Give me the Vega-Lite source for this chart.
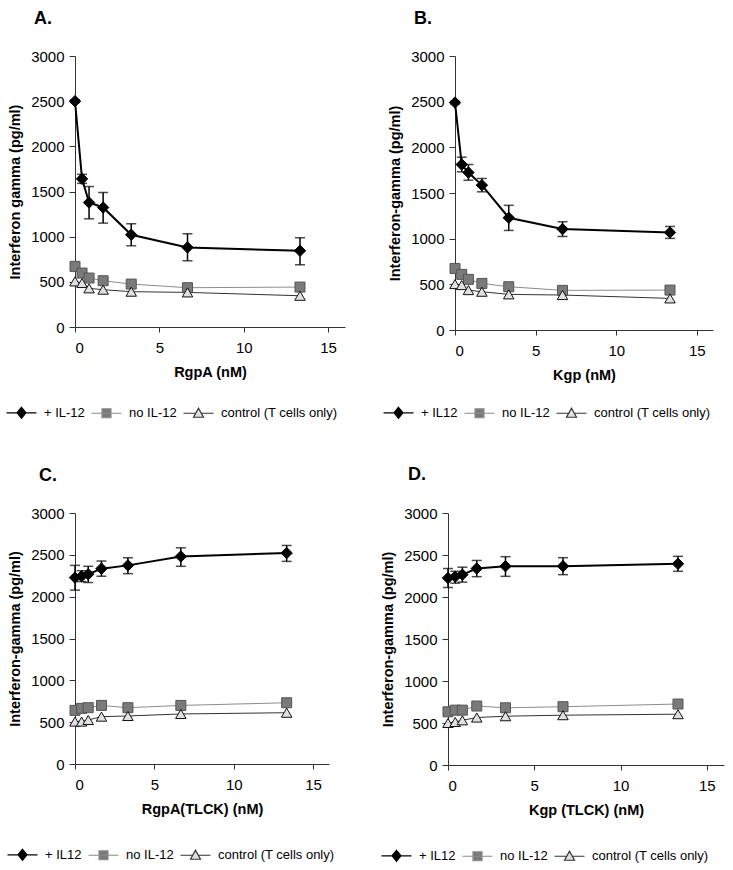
{
  "$schema": "https://vega.github.io/schema/vega-lite/v6.json",
  "padding": {"left": 5, "top": 10, "right": 5, "bottom": 5},
  "background": "white",
  "config": {
    "font": "Liberation Sans",
    "view": {"stroke": null},
    "axis": {"grid": false, "domainColor": "#333", "tickColor": "#333", "labelColor": "#000", "titleColor": "#000", "labelFontSize": 15, "labelFont": "Liberation Sans", "titleFont": "Liberation Sans", "titleFontSize": 14.5, "titleFontWeight": "bold", "format": "d"},
    "axisY": {"titlePadding": 8, "tickSize": 6, "labelPadding": 5},
    "axisX": {"titlePadding": 10, "tickSize": 5, "labelPadding": 8},
    "title": {"frame": "group"},
    "legend": {"padding": 0}
  },
  "data": {"values": [
    {"p":"A","s":"+ IL-12","x":0,"y":2500,"lo":2485,"hi":2515},
    {"p":"A","s":"+ IL-12","x":0.417,"y":1640,"lo":1590,"hi":1690},
    {"p":"A","s":"+ IL-12","x":0.833,"y":1378,"lo":1198,"hi":1555},
    {"p":"A","s":"+ IL-12","x":1.667,"y":1323,"lo":1150,"hi":1489},
    {"p":"A","s":"+ IL-12","x":3.333,"y":1021,"lo":899,"hi":1143},
    {"p":"A","s":"+ IL-12","x":6.667,"y":881,"lo":733,"hi":1032},
    {"p":"A","s":"+ IL-12","x":13.333,"y":844,"lo":689,"hi":988},
    {"p":"A","s":"no IL-12","x":0,"y":671},
    {"p":"A","s":"no IL-12","x":0.417,"y":597},
    {"p":"A","s":"no IL-12","x":0.833,"y":542},
    {"p":"A","s":"no IL-12","x":1.667,"y":512},
    {"p":"A","s":"no IL-12","x":3.333,"y":475},
    {"p":"A","s":"no IL-12","x":6.667,"y":435},
    {"p":"A","s":"no IL-12","x":13.333,"y":442},
    {"p":"A","s":"control (T cells only)","x":0,"y":505},
    {"p":"A","s":"control (T cells only)","x":0.417,"y":487},
    {"p":"A","s":"control (T cells only)","x":0.833,"y":428},
    {"p":"A","s":"control (T cells only)","x":1.667,"y":413},
    {"p":"A","s":"control (T cells only)","x":3.333,"y":391},
    {"p":"A","s":"control (T cells only)","x":6.667,"y":383},
    {"p":"A","s":"control (T cells only)","x":13.333,"y":346},
    {"p":"B","s":"+ IL12","x":0,"y":2490,"lo":2475,"hi":2505},
    {"p":"B","s":"+ IL12","x":0.417,"y":1812,"lo":1732,"hi":1892},
    {"p":"B","s":"+ IL12","x":0.833,"y":1724,"lo":1640,"hi":1812},
    {"p":"B","s":"+ IL12","x":1.667,"y":1586,"lo":1513,"hi":1659},
    {"p":"B","s":"+ IL12","x":3.333,"y":1229,"lo":1090,"hi":1365},
    {"p":"B","s":"+ IL12","x":6.667,"y":1105,"lo":1024,"hi":1185},
    {"p":"B","s":"+ IL12","x":13.333,"y":1068,"lo":1003,"hi":1134},
    {"p":"B","s":"no IL-12","x":0,"y":674},
    {"p":"B","s":"no IL-12","x":0.417,"y":609},
    {"p":"B","s":"no IL-12","x":0.833,"y":554},
    {"p":"B","s":"no IL-12","x":1.667,"y":510},
    {"p":"B","s":"no IL-12","x":3.333,"y":474},
    {"p":"B","s":"no IL-12","x":6.667,"y":434},
    {"p":"B","s":"no IL-12","x":13.333,"y":437},
    {"p":"B","s":"control (T cells only)","x":0,"y":503},
    {"p":"B","s":"control (T cells only)","x":0.417,"y":492},
    {"p":"B","s":"control (T cells only)","x":0.833,"y":437},
    {"p":"B","s":"control (T cells only)","x":1.667,"y":419},
    {"p":"B","s":"control (T cells only)","x":3.333,"y":390},
    {"p":"B","s":"control (T cells only)","x":6.667,"y":383},
    {"p":"B","s":"control (T cells only)","x":13.333,"y":346},
    {"p":"C","s":"+ IL12","x":0,"y":2228,"lo":2078,"hi":2374},
    {"p":"C","s":"+ IL12","x":0.417,"y":2244,"lo":2180,"hi":2310},
    {"p":"C","s":"+ IL12","x":0.833,"y":2268,"lo":2169,"hi":2363},
    {"p":"C","s":"+ IL12","x":1.667,"y":2335,"lo":2244,"hi":2426},
    {"p":"C","s":"+ IL12","x":3.333,"y":2374,"lo":2275,"hi":2465},
    {"p":"C","s":"+ IL12","x":6.667,"y":2481,"lo":2363,"hi":2584},
    {"p":"C","s":"+ IL12","x":13.333,"y":2521,"lo":2422,"hi":2612},
    {"p":"C","s":"no IL-12","x":0,"y":641},
    {"p":"C","s":"no IL-12","x":0.417,"y":665},
    {"p":"C","s":"no IL-12","x":0.833,"y":673},
    {"p":"C","s":"no IL-12","x":1.667,"y":700},
    {"p":"C","s":"no IL-12","x":3.333,"y":673},
    {"p":"C","s":"no IL-12","x":6.667,"y":700},
    {"p":"C","s":"no IL-12","x":13.333,"y":732},
    {"p":"C","s":"control (T cells only)","x":0,"y":507},
    {"p":"C","s":"control (T cells only)","x":0.417,"y":507},
    {"p":"C","s":"control (T cells only)","x":0.833,"y":526},
    {"p":"C","s":"control (T cells only)","x":1.667,"y":566},
    {"p":"C","s":"control (T cells only)","x":3.333,"y":574},
    {"p":"C","s":"control (T cells only)","x":6.667,"y":598},
    {"p":"C","s":"control (T cells only)","x":13.333,"y":613},
    {"p":"D","s":"+ IL12","x":0,"y":2226,"lo":2113,"hi":2339},
    {"p":"D","s":"+ IL12","x":0.417,"y":2242,"lo":2165,"hi":2306},
    {"p":"D","s":"+ IL12","x":0.833,"y":2266,"lo":2177,"hi":2355},
    {"p":"D","s":"+ IL12","x":1.667,"y":2339,"lo":2242,"hi":2435},
    {"p":"D","s":"+ IL12","x":3.333,"y":2367,"lo":2246,"hi":2480},
    {"p":"D","s":"+ IL12","x":6.667,"y":2367,"lo":2266,"hi":2468},
    {"p":"D","s":"+ IL12","x":13.333,"y":2395,"lo":2306,"hi":2484},
    {"p":"D","s":"no IL-12","x":0,"y":633},
    {"p":"D","s":"no IL-12","x":0.417,"y":653},
    {"p":"D","s":"no IL-12","x":0.833,"y":653},
    {"p":"D","s":"no IL-12","x":1.667,"y":702},
    {"p":"D","s":"no IL-12","x":3.333,"y":681},
    {"p":"D","s":"no IL-12","x":6.667,"y":694},
    {"p":"D","s":"no IL-12","x":13.333,"y":726},
    {"p":"D","s":"control (T cells only)","x":0,"y":500},
    {"p":"D","s":"control (T cells only)","x":0.417,"y":512},
    {"p":"D","s":"control (T cells only)","x":0.833,"y":532},
    {"p":"D","s":"control (T cells only)","x":1.667,"y":565},
    {"p":"D","s":"control (T cells only)","x":3.333,"y":581},
    {"p":"D","s":"control (T cells only)","x":6.667,"y":593},
    {"p":"D","s":"control (T cells only)","x":13.333,"y":605}
  ]},
  "resolve": {"scale": {"shape": "independent", "fill": "independent", "stroke": "independent"}, "legend": {"shape": "independent", "fill": "independent", "stroke": "independent"}},
  "spacing": 45,
  "vconcat": [
    {
      "spacing": 37,
      "resolve": {"scale": {"shape": "independent", "fill": "independent", "stroke": "independent"}, "legend": {"shape": "independent", "fill": "independent", "stroke": "independent"}},
      "hconcat": [
        {
          "width": 270, "height": 271,
          "title": {"text": "A.", "anchor": "start", "dx": -41, "fontSize": 18, "fontWeight": "bold", "baseline": "bottom", "offset": 3},
          "transform": [{"filter": "datum.p === 'A'"}],
          "layer": [
            {"transform": [{"filter": "datum.s === 'no IL-12'"}],
             "mark": {"type": "line", "color": "#8c8c8c", "strokeWidth": 1},
             "encoding": {
               "x": {"field": "x", "type": "quantitative", "scale": {"domain": [0, 15]}, "axis": {"values": [0, 5, 10, 15], "title": "RgpA (nM)"}},
               "y": {"field": "y", "type": "quantitative", "scale": {"domain": [0, 3000]}, "axis": {"values": [0, 500, 1000, 1500, 2000, 2500, 3000], "title": "Interferon gamma (pg/ml)"}}}},
            {"transform": [{"filter": "datum.s === 'control (T cells only)'"}],
             "mark": {"type": "line", "color": "#333333", "strokeWidth": 1},
             "encoding": {"x": {"field": "x", "type": "quantitative"}, "y": {"field": "y", "type": "quantitative", "title": "Interferon gamma (pg/ml)"}}},
            {"transform": [{"filter": "datum.s === '+ IL-12'"}],
             "mark": {"type": "line", "color": "#000000", "strokeWidth": 2},
             "encoding": {"x": {"field": "x", "type": "quantitative"}, "y": {"field": "y", "type": "quantitative", "title": "Interferon gamma (pg/ml)"}}},
            {"transform": [{"filter": "isValid(datum.lo)"}],
             "mark": {"type": "errorbar", "ticks": {"size": 10}, "color": "#000", "thickness": 1.5},
             "encoding": {"x": {"field": "x", "type": "quantitative"}, "y": {"field": "lo", "type": "quantitative", "title": "Interferon gamma (pg/ml)"}, "y2": {"field": "hi"}}},
            {"transform": [{"filter": "datum.s === 'no IL-12'"}],
             "mark": {"type": "point", "shape": "square", "size": 100, "filled": true, "fill": "#7a7a7a", "stroke": "#555555", "strokeWidth": 1, "opacity": 1},
             "encoding": {"x": {"field": "x", "type": "quantitative"}, "y": {"field": "y", "type": "quantitative", "title": "Interferon gamma (pg/ml)"}}},
            {"transform": [{"filter": "datum.s === 'control (T cells only)'"}],
             "mark": {"type": "point", "shape": "triangle-up", "size": 110, "filled": true, "fill": "#e0e0e0", "stroke": "#111111", "strokeWidth": 1, "opacity": 1},
             "encoding": {"x": {"field": "x", "type": "quantitative"}, "y": {"field": "y", "type": "quantitative", "title": "Interferon gamma (pg/ml)"}}},
            {"transform": [{"filter": "datum.s === '+ IL-12'"}],
             "mark": {"type": "point", "shape": "diamond", "size": 130, "filled": true, "fill": "#000000", "stroke": "#000000", "strokeWidth": 1, "opacity": 1},
             "encoding": {"x": {"field": "x", "type": "quantitative"}, "y": {"field": "y", "type": "quantitative", "title": "Interferon gamma (pg/ml)"}}},
            {"mark": {"type": "point", "opacity": 0, "filled": true},
             "encoding": {
               "x": {"field": "x", "type": "quantitative"},
               "y": {"field": "y", "type": "quantitative", "title": "Interferon gamma (pg/ml)"},
               "shape": {"field": "s", "type": "nominal", "scale": {"domain": ["+ IL-12", "no IL-12", "control (T cells only)"], "range": ["M-1,0L5,0M2,-1.1L2.9,0L2,1.1L1.1,0Z", "M-1,0L5,0M1.1,-0.9L2.9,-0.9L2.9,0.9L1.1,0.9Z", "M-1,0L1.45,0M2.55,0L5,0M2,-1L3,0.8L1,0.8Z"]},
                 "legend": {"orient": "none", "legendX": -70, "legendY": 350, "direction": "horizontal", "title": null, "labelFontSize": 13, "labelColor": "#000", "symbolSize": 100, "labelOffset": 26, "columnPadding": 4, "symbolOpacity": 1, "symbolStrokeWidth": 1.2}},
               "fill": {"field": "s", "type": "nominal", "scale": {"domain": ["+ IL-12", "no IL-12", "control (T cells only)"], "range": ["#000000", "#7a7a7a", "#e0e0e0"]},
                 "legend": {"orient": "none", "legendX": -70, "legendY": 350, "direction": "horizontal", "title": null, "labelFontSize": 13, "labelColor": "#000", "symbolSize": 100, "labelOffset": 26, "columnPadding": 4, "symbolOpacity": 1, "symbolStrokeWidth": 1.2}},
               "stroke": {"field": "s", "type": "nominal", "scale": {"domain": ["+ IL-12", "no IL-12", "control (T cells only)"], "range": ["#000000", "#8c8c8c", "#333333"]},
                 "legend": {"orient": "none", "legendX": -70, "legendY": 350, "direction": "horizontal", "title": null, "labelFontSize": 13, "labelColor": "#000", "symbolSize": 100, "labelOffset": 26, "columnPadding": 4, "symbolOpacity": 1, "symbolStrokeWidth": 1.2}}
             }}
          ]
        },
        {
          "width": 258, "height": 274,
          "title": {"text": "B.", "anchor": "start", "dx": -41, "fontSize": 18, "fontWeight": "bold", "baseline": "bottom", "offset": 3},
          "transform": [{"filter": "datum.p === 'B'"}],
          "layer": [
            {"transform": [{"filter": "datum.s === 'no IL-12'"}],
             "mark": {"type": "line", "color": "#8c8c8c", "strokeWidth": 1},
             "encoding": {
               "x": {"field": "x", "type": "quantitative", "scale": {"domain": [0, 15]}, "axis": {"values": [0, 5, 10, 15], "title": "Kgp (nM)"}},
               "y": {"field": "y", "type": "quantitative", "scale": {"domain": [0, 3000]}, "axis": {"values": [0, 500, 1000, 1500, 2000, 2500, 3000], "title": "Interferon-gamma (pg/ml)"}}}},
            {"transform": [{"filter": "datum.s === 'control (T cells only)'"}],
             "mark": {"type": "line", "color": "#333333", "strokeWidth": 1},
             "encoding": {"x": {"field": "x", "type": "quantitative"}, "y": {"field": "y", "type": "quantitative", "title": "Interferon-gamma (pg/ml)"}}},
            {"transform": [{"filter": "datum.s === '+ IL12'"}],
             "mark": {"type": "line", "color": "#000000", "strokeWidth": 2},
             "encoding": {"x": {"field": "x", "type": "quantitative"}, "y": {"field": "y", "type": "quantitative", "title": "Interferon-gamma (pg/ml)"}}},
            {"transform": [{"filter": "isValid(datum.lo)"}],
             "mark": {"type": "errorbar", "ticks": {"size": 10}, "color": "#000", "thickness": 1.5},
             "encoding": {"x": {"field": "x", "type": "quantitative"}, "y": {"field": "lo", "type": "quantitative", "title": "Interferon-gamma (pg/ml)"}, "y2": {"field": "hi"}}},
            {"transform": [{"filter": "datum.s === 'no IL-12'"}],
             "mark": {"type": "point", "shape": "square", "size": 100, "filled": true, "fill": "#7a7a7a", "stroke": "#555555", "strokeWidth": 1, "opacity": 1},
             "encoding": {"x": {"field": "x", "type": "quantitative"}, "y": {"field": "y", "type": "quantitative", "title": "Interferon-gamma (pg/ml)"}}},
            {"transform": [{"filter": "datum.s === 'control (T cells only)'"}],
             "mark": {"type": "point", "shape": "triangle-up", "size": 110, "filled": true, "fill": "#e0e0e0", "stroke": "#111111", "strokeWidth": 1, "opacity": 1},
             "encoding": {"x": {"field": "x", "type": "quantitative"}, "y": {"field": "y", "type": "quantitative", "title": "Interferon-gamma (pg/ml)"}}},
            {"transform": [{"filter": "datum.s === '+ IL12'"}],
             "mark": {"type": "point", "shape": "diamond", "size": 130, "filled": true, "fill": "#000000", "stroke": "#000000", "strokeWidth": 1, "opacity": 1},
             "encoding": {"x": {"field": "x", "type": "quantitative"}, "y": {"field": "y", "type": "quantitative", "title": "Interferon-gamma (pg/ml)"}}},
            {"mark": {"type": "point", "opacity": 0, "filled": true},
             "encoding": {
               "x": {"field": "x", "type": "quantitative"},
               "y": {"field": "y", "type": "quantitative", "title": "Interferon-gamma (pg/ml)"},
               "shape": {"field": "s", "type": "nominal", "scale": {"domain": ["+ IL12", "no IL-12", "control (T cells only)"], "range": ["M-1,0L5,0M2,-1.1L2.9,0L2,1.1L1.1,0Z", "M-1,0L5,0M1.1,-0.9L2.9,-0.9L2.9,0.9L1.1,0.9Z", "M-1,0L1.45,0M2.55,0L5,0M2,-1L3,0.8L1,0.8Z"]},
                 "legend": {"orient": "none", "legendX": -73, "legendY": 350, "direction": "horizontal", "title": null, "labelFontSize": 13, "labelColor": "#000", "symbolSize": 100, "labelOffset": 26, "columnPadding": 4, "symbolOpacity": 1, "symbolStrokeWidth": 1.2}},
               "fill": {"field": "s", "type": "nominal", "scale": {"domain": ["+ IL12", "no IL-12", "control (T cells only)"], "range": ["#000000", "#7a7a7a", "#e0e0e0"]},
                 "legend": {"orient": "none", "legendX": -73, "legendY": 350, "direction": "horizontal", "title": null, "labelFontSize": 13, "labelColor": "#000", "symbolSize": 100, "labelOffset": 26, "columnPadding": 4, "symbolOpacity": 1, "symbolStrokeWidth": 1.2}},
               "stroke": {"field": "s", "type": "nominal", "scale": {"domain": ["+ IL12", "no IL-12", "control (T cells only)"], "range": ["#000000", "#8c8c8c", "#333333"]},
                 "legend": {"orient": "none", "legendX": -73, "legendY": 350, "direction": "horizontal", "title": null, "labelFontSize": 13, "labelColor": "#000", "symbolSize": 100, "labelOffset": 26, "columnPadding": 4, "symbolOpacity": 1, "symbolStrokeWidth": 1.2}}
             }}
          ]
        }
      ]
    },
    {
      "spacing": 45,
      "resolve": {"scale": {"shape": "independent", "fill": "independent", "stroke": "independent"}, "legend": {"shape": "independent", "fill": "independent", "stroke": "independent"}},
      "hconcat": [
        {
          "width": 254, "height": 251,
          "title": {"text": "C.", "anchor": "start", "dx": -36, "fontSize": 18, "fontWeight": "bold", "baseline": "bottom", "offset": 3},
          "transform": [{"filter": "datum.p === 'C'"}],
          "layer": [
            {"transform": [{"filter": "datum.s === 'no IL-12'"}],
             "mark": {"type": "line", "color": "#8c8c8c", "strokeWidth": 1},
             "encoding": {
               "x": {"field": "x", "type": "quantitative", "scale": {"domain": [0, 15]}, "axis": {"values": [0, 5, 10, 15], "title": "RgpA(TLCK) (nM)"}},
               "y": {"field": "y", "type": "quantitative", "scale": {"domain": [0, 3000]}, "axis": {"values": [0, 500, 1000, 1500, 2000, 2500, 3000], "title": "Interferon-gamma (pg/ml)"}}}},
            {"transform": [{"filter": "datum.s === 'control (T cells only)'"}],
             "mark": {"type": "line", "color": "#333333", "strokeWidth": 1},
             "encoding": {"x": {"field": "x", "type": "quantitative"}, "y": {"field": "y", "type": "quantitative", "title": "Interferon-gamma (pg/ml)"}}},
            {"transform": [{"filter": "datum.s === '+ IL12'"}],
             "mark": {"type": "line", "color": "#000000", "strokeWidth": 2},
             "encoding": {"x": {"field": "x", "type": "quantitative"}, "y": {"field": "y", "type": "quantitative", "title": "Interferon-gamma (pg/ml)"}}},
            {"transform": [{"filter": "isValid(datum.lo)"}],
             "mark": {"type": "errorbar", "ticks": {"size": 10}, "color": "#000", "thickness": 1.5},
             "encoding": {"x": {"field": "x", "type": "quantitative"}, "y": {"field": "lo", "type": "quantitative", "title": "Interferon-gamma (pg/ml)"}, "y2": {"field": "hi"}}},
            {"transform": [{"filter": "datum.s === 'no IL-12'"}],
             "mark": {"type": "point", "shape": "square", "size": 100, "filled": true, "fill": "#7a7a7a", "stroke": "#555555", "strokeWidth": 1, "opacity": 1},
             "encoding": {"x": {"field": "x", "type": "quantitative"}, "y": {"field": "y", "type": "quantitative", "title": "Interferon-gamma (pg/ml)"}}},
            {"transform": [{"filter": "datum.s === 'control (T cells only)'"}],
             "mark": {"type": "point", "shape": "triangle-up", "size": 110, "filled": true, "fill": "#e0e0e0", "stroke": "#111111", "strokeWidth": 1, "opacity": 1},
             "encoding": {"x": {"field": "x", "type": "quantitative"}, "y": {"field": "y", "type": "quantitative", "title": "Interferon-gamma (pg/ml)"}}},
            {"transform": [{"filter": "datum.s === '+ IL12'"}],
             "mark": {"type": "point", "shape": "diamond", "size": 130, "filled": true, "fill": "#000000", "stroke": "#000000", "strokeWidth": 1, "opacity": 1},
             "encoding": {"x": {"field": "x", "type": "quantitative"}, "y": {"field": "y", "type": "quantitative", "title": "Interferon-gamma (pg/ml)"}}},
            {"mark": {"type": "point", "opacity": 0, "filled": true},
             "encoding": {
               "x": {"field": "x", "type": "quantitative"},
               "y": {"field": "y", "type": "quantitative", "title": "Interferon-gamma (pg/ml)"},
               "shape": {"field": "s", "type": "nominal", "scale": {"domain": ["+ IL12", "no IL-12", "control (T cells only)"], "range": ["M-1,0L5,0M2,-1.1L2.9,0L2,1.1L1.1,0Z", "M-1,0L5,0M1.1,-0.9L2.9,-0.9L2.9,0.9L1.1,0.9Z", "M-1,0L1.45,0M2.55,0L5,0M2,-1L3,0.8L1,0.8Z"]},
                 "legend": {"orient": "none", "legendX": -69, "legendY": 335, "direction": "horizontal", "title": null, "labelFontSize": 13, "labelColor": "#000", "symbolSize": 100, "labelOffset": 26, "columnPadding": 4, "symbolOpacity": 1, "symbolStrokeWidth": 1.2}},
               "fill": {"field": "s", "type": "nominal", "scale": {"domain": ["+ IL12", "no IL-12", "control (T cells only)"], "range": ["#000000", "#7a7a7a", "#e0e0e0"]},
                 "legend": {"orient": "none", "legendX": -69, "legendY": 335, "direction": "horizontal", "title": null, "labelFontSize": 13, "labelColor": "#000", "symbolSize": 100, "labelOffset": 26, "columnPadding": 4, "symbolOpacity": 1, "symbolStrokeWidth": 1.2}},
               "stroke": {"field": "s", "type": "nominal", "scale": {"domain": ["+ IL12", "no IL-12", "control (T cells only)"], "range": ["#000000", "#8c8c8c", "#333333"]},
                 "legend": {"orient": "none", "legendX": -69, "legendY": 335, "direction": "horizontal", "title": null, "labelFontSize": 13, "labelColor": "#000", "symbolSize": 100, "labelOffset": 26, "columnPadding": 4, "symbolOpacity": 1, "symbolStrokeWidth": 1.2}}
             }}
          ]
        },
        {
          "width": 276, "height": 252,
          "title": {"text": "D.", "anchor": "start", "dx": -40, "fontSize": 18, "fontWeight": "bold", "baseline": "bottom", "offset": 4},
          "transform": [{"filter": "datum.p === 'D'"}],
          "layer": [
            {"transform": [{"filter": "datum.s === 'no IL-12'"}],
             "mark": {"type": "line", "color": "#8c8c8c", "strokeWidth": 1},
             "encoding": {
               "x": {"field": "x", "type": "quantitative", "scale": {"domain": [0, 15]}, "axis": {"values": [0, 5, 10, 15], "title": "Kgp (TLCK) (nM)"}},
               "y": {"field": "y", "type": "quantitative", "scale": {"domain": [0, 3000]}, "axis": {"values": [0, 500, 1000, 1500, 2000, 2500, 3000], "title": "Interferon-gamma (pg/ml)"}}}},
            {"transform": [{"filter": "datum.s === 'control (T cells only)'"}],
             "mark": {"type": "line", "color": "#333333", "strokeWidth": 1},
             "encoding": {"x": {"field": "x", "type": "quantitative"}, "y": {"field": "y", "type": "quantitative", "title": "Interferon-gamma (pg/ml)"}}},
            {"transform": [{"filter": "datum.s === '+ IL12'"}],
             "mark": {"type": "line", "color": "#000000", "strokeWidth": 2},
             "encoding": {"x": {"field": "x", "type": "quantitative"}, "y": {"field": "y", "type": "quantitative", "title": "Interferon-gamma (pg/ml)"}}},
            {"transform": [{"filter": "isValid(datum.lo)"}],
             "mark": {"type": "errorbar", "ticks": {"size": 10}, "color": "#000", "thickness": 1.5},
             "encoding": {"x": {"field": "x", "type": "quantitative"}, "y": {"field": "lo", "type": "quantitative", "title": "Interferon-gamma (pg/ml)"}, "y2": {"field": "hi"}}},
            {"transform": [{"filter": "datum.s === 'no IL-12'"}],
             "mark": {"type": "point", "shape": "square", "size": 100, "filled": true, "fill": "#7a7a7a", "stroke": "#555555", "strokeWidth": 1, "opacity": 1},
             "encoding": {"x": {"field": "x", "type": "quantitative"}, "y": {"field": "y", "type": "quantitative", "title": "Interferon-gamma (pg/ml)"}}},
            {"transform": [{"filter": "datum.s === 'control (T cells only)'"}],
             "mark": {"type": "point", "shape": "triangle-up", "size": 110, "filled": true, "fill": "#e0e0e0", "stroke": "#111111", "strokeWidth": 1, "opacity": 1},
             "encoding": {"x": {"field": "x", "type": "quantitative"}, "y": {"field": "y", "type": "quantitative", "title": "Interferon-gamma (pg/ml)"}}},
            {"transform": [{"filter": "datum.s === '+ IL12'"}],
             "mark": {"type": "point", "shape": "diamond", "size": 130, "filled": true, "fill": "#000000", "stroke": "#000000", "strokeWidth": 1, "opacity": 1},
             "encoding": {"x": {"field": "x", "type": "quantitative"}, "y": {"field": "y", "type": "quantitative", "title": "Interferon-gamma (pg/ml)"}}},
            {"mark": {"type": "point", "opacity": 0, "filled": true},
             "encoding": {
               "x": {"field": "x", "type": "quantitative"},
               "y": {"field": "y", "type": "quantitative", "title": "Interferon-gamma (pg/ml)"},
               "shape": {"field": "s", "type": "nominal", "scale": {"domain": ["+ IL12", "no IL-12", "control (T cells only)"], "range": ["M-1,0L5,0M2,-1.1L2.9,0L2,1.1L1.1,0Z", "M-1,0L5,0M1.1,-0.9L2.9,-0.9L2.9,0.9L1.1,0.9Z", "M-1,0L1.45,0M2.55,0L5,0M2,-1L3,0.8L1,0.8Z"]},
                 "legend": {"orient": "none", "legendX": -68, "legendY": 336, "direction": "horizontal", "title": null, "labelFontSize": 13, "labelColor": "#000", "symbolSize": 100, "labelOffset": 26, "columnPadding": 4, "symbolOpacity": 1, "symbolStrokeWidth": 1.2}},
               "fill": {"field": "s", "type": "nominal", "scale": {"domain": ["+ IL12", "no IL-12", "control (T cells only)"], "range": ["#000000", "#7a7a7a", "#e0e0e0"]},
                 "legend": {"orient": "none", "legendX": -68, "legendY": 336, "direction": "horizontal", "title": null, "labelFontSize": 13, "labelColor": "#000", "symbolSize": 100, "labelOffset": 26, "columnPadding": 4, "symbolOpacity": 1, "symbolStrokeWidth": 1.2}},
               "stroke": {"field": "s", "type": "nominal", "scale": {"domain": ["+ IL12", "no IL-12", "control (T cells only)"], "range": ["#000000", "#8c8c8c", "#333333"]},
                 "legend": {"orient": "none", "legendX": -68, "legendY": 336, "direction": "horizontal", "title": null, "labelFontSize": 13, "labelColor": "#000", "symbolSize": 100, "labelOffset": 26, "columnPadding": 4, "symbolOpacity": 1, "symbolStrokeWidth": 1.2}}
             }}
          ]
        }
      ]
    }
  ]
}
